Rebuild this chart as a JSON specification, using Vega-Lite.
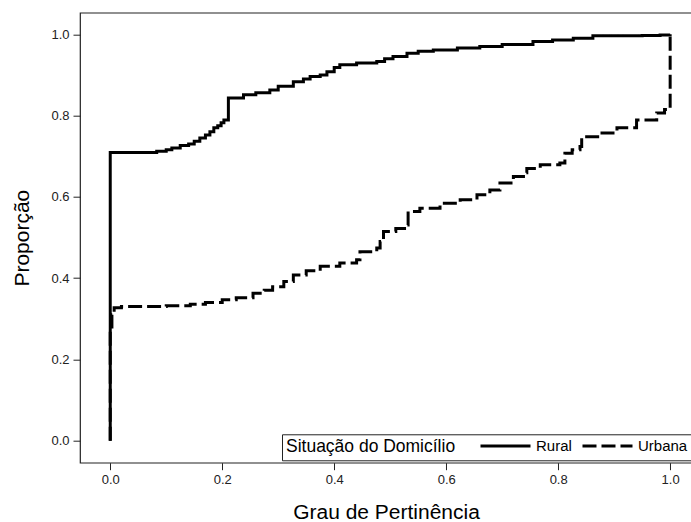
{
  "$schema": "https://vega.github.io/schema/vega-lite/v6.json",
  "width": 612,
  "height": 450,
  "autosize": {"type": "none"},
  "padding": {"left": 80, "top": 12.7, "right": 0, "bottom": 60},
  "background": "white",
  "config": {
    "font": "Liberation Sans",
    "view": {"stroke": "#222", "strokeWidth": 1.2},
    "axis": {"grid": false, "domain": false, "tickColor": "#222", "tickSize": 7, "labelColor": "#222", "labelFontSize": 13, "labelFont": "Liberation Sans", "titleFont": "Liberation Sans", "titleFontWeight": "normal", "titleFontSize": 21, "titleColor": "#000", "labelPadding": 4}
  },
  "data": {"values": [
    {"i": 0, "x": 0, "y": 0, "s": "Rural"},
    {"i": 1, "x": 0, "y": 0.709, "s": "Rural"},
    {"i": 2, "x": 0.083, "y": 0.712, "s": "Rural"},
    {"i": 3, "x": 0.1, "y": 0.716, "s": "Rural"},
    {"i": 4, "x": 0.11, "y": 0.72, "s": "Rural"},
    {"i": 5, "x": 0.125, "y": 0.726, "s": "Rural"},
    {"i": 6, "x": 0.14, "y": 0.73, "s": "Rural"},
    {"i": 7, "x": 0.15, "y": 0.737, "s": "Rural"},
    {"i": 8, "x": 0.16, "y": 0.745, "s": "Rural"},
    {"i": 9, "x": 0.17, "y": 0.752, "s": "Rural"},
    {"i": 10, "x": 0.178, "y": 0.76, "s": "Rural"},
    {"i": 11, "x": 0.185, "y": 0.77, "s": "Rural"},
    {"i": 12, "x": 0.192, "y": 0.775, "s": "Rural"},
    {"i": 13, "x": 0.198, "y": 0.782, "s": "Rural"},
    {"i": 14, "x": 0.203, "y": 0.789, "s": "Rural"},
    {"i": 15, "x": 0.211, "y": 0.843, "s": "Rural"},
    {"i": 16, "x": 0.238, "y": 0.851, "s": "Rural"},
    {"i": 17, "x": 0.26, "y": 0.856, "s": "Rural"},
    {"i": 18, "x": 0.285, "y": 0.863, "s": "Rural"},
    {"i": 19, "x": 0.3, "y": 0.872, "s": "Rural"},
    {"i": 20, "x": 0.327, "y": 0.883, "s": "Rural"},
    {"i": 21, "x": 0.345, "y": 0.89, "s": "Rural"},
    {"i": 22, "x": 0.357, "y": 0.896, "s": "Rural"},
    {"i": 23, "x": 0.375, "y": 0.9, "s": "Rural"},
    {"i": 24, "x": 0.387, "y": 0.908, "s": "Rural"},
    {"i": 25, "x": 0.4, "y": 0.918, "s": "Rural"},
    {"i": 26, "x": 0.41, "y": 0.925, "s": "Rural"},
    {"i": 27, "x": 0.44, "y": 0.929, "s": "Rural"},
    {"i": 28, "x": 0.476, "y": 0.933, "s": "Rural"},
    {"i": 29, "x": 0.49, "y": 0.94, "s": "Rural"},
    {"i": 30, "x": 0.505, "y": 0.945, "s": "Rural"},
    {"i": 31, "x": 0.53, "y": 0.953, "s": "Rural"},
    {"i": 32, "x": 0.55, "y": 0.958, "s": "Rural"},
    {"i": 33, "x": 0.577, "y": 0.961, "s": "Rural"},
    {"i": 34, "x": 0.62, "y": 0.966, "s": "Rural"},
    {"i": 35, "x": 0.66, "y": 0.97, "s": "Rural"},
    {"i": 36, "x": 0.7, "y": 0.975, "s": "Rural"},
    {"i": 37, "x": 0.755, "y": 0.982, "s": "Rural"},
    {"i": 38, "x": 0.79, "y": 0.986, "s": "Rural"},
    {"i": 39, "x": 0.827, "y": 0.99, "s": "Rural"},
    {"i": 40, "x": 0.862, "y": 0.996, "s": "Rural"},
    {"i": 41, "x": 0.95, "y": 0.997, "s": "Rural"},
    {"i": 42, "x": 0.982, "y": 0.998, "s": "Rural"},
    {"i": 43, "x": 1.0, "y": 1.0, "s": "Rural"},
    {"i": 100, "x": 0, "y": 0, "s": "Urbana"},
    {"i": 101, "x": 0, "y": 0.27, "s": "Urbana"},
    {"i": 102, "x": 0.003, "y": 0.31, "s": "Urbana"},
    {"i": 103, "x": 0.007, "y": 0.327, "s": "Urbana"},
    {"i": 104, "x": 0.02, "y": 0.33, "s": "Urbana"},
    {"i": 105, "x": 0.1, "y": 0.332, "s": "Urbana"},
    {"i": 106, "x": 0.143, "y": 0.336, "s": "Urbana"},
    {"i": 107, "x": 0.17, "y": 0.34, "s": "Urbana"},
    {"i": 108, "x": 0.2, "y": 0.347, "s": "Urbana"},
    {"i": 109, "x": 0.225, "y": 0.352, "s": "Urbana"},
    {"i": 110, "x": 0.255, "y": 0.363, "s": "Urbana"},
    {"i": 111, "x": 0.275, "y": 0.37, "s": "Urbana"},
    {"i": 112, "x": 0.29, "y": 0.379, "s": "Urbana"},
    {"i": 113, "x": 0.31, "y": 0.392, "s": "Urbana"},
    {"i": 114, "x": 0.327, "y": 0.408, "s": "Urbana"},
    {"i": 115, "x": 0.35, "y": 0.418, "s": "Urbana"},
    {"i": 116, "x": 0.375, "y": 0.429, "s": "Urbana"},
    {"i": 117, "x": 0.41, "y": 0.437, "s": "Urbana"},
    {"i": 118, "x": 0.44, "y": 0.445, "s": "Urbana"},
    {"i": 119, "x": 0.446, "y": 0.465, "s": "Urbana"},
    {"i": 120, "x": 0.476, "y": 0.474, "s": "Urbana"},
    {"i": 121, "x": 0.482, "y": 0.49, "s": "Urbana"},
    {"i": 122, "x": 0.488, "y": 0.515, "s": "Urbana"},
    {"i": 123, "x": 0.51, "y": 0.522, "s": "Urbana"},
    {"i": 124, "x": 0.53, "y": 0.531, "s": "Urbana"},
    {"i": 125, "x": 0.532, "y": 0.564, "s": "Urbana"},
    {"i": 126, "x": 0.553, "y": 0.572, "s": "Urbana"},
    {"i": 127, "x": 0.589, "y": 0.584, "s": "Urbana"},
    {"i": 128, "x": 0.625, "y": 0.593, "s": "Urbana"},
    {"i": 129, "x": 0.655, "y": 0.605, "s": "Urbana"},
    {"i": 130, "x": 0.678, "y": 0.617, "s": "Urbana"},
    {"i": 131, "x": 0.696, "y": 0.634, "s": "Urbana"},
    {"i": 132, "x": 0.72, "y": 0.65, "s": "Urbana"},
    {"i": 133, "x": 0.738, "y": 0.659, "s": "Urbana"},
    {"i": 134, "x": 0.744, "y": 0.67, "s": "Urbana"},
    {"i": 135, "x": 0.768, "y": 0.679, "s": "Urbana"},
    {"i": 136, "x": 0.803, "y": 0.683, "s": "Urbana"},
    {"i": 137, "x": 0.812, "y": 0.707, "s": "Urbana"},
    {"i": 138, "x": 0.825, "y": 0.716, "s": "Urbana"},
    {"i": 139, "x": 0.839, "y": 0.724, "s": "Urbana"},
    {"i": 140, "x": 0.842, "y": 0.748, "s": "Urbana"},
    {"i": 141, "x": 0.875, "y": 0.757, "s": "Urbana"},
    {"i": 142, "x": 0.905, "y": 0.77, "s": "Urbana"},
    {"i": 143, "x": 0.94, "y": 0.789, "s": "Urbana"},
    {"i": 144, "x": 0.976, "y": 0.806, "s": "Urbana"},
    {"i": 145, "x": 0.99, "y": 0.815, "s": "Urbana"},
    {"i": 146, "x": 1.0, "y": 1.0, "s": "Urbana"}
  ]},
  "mark": {"type": "line", "interpolate": "step-after", "color": "black", "strokeWidth": 3, "clip": true},
  "encoding": {
    "x": {"field": "x", "type": "quantitative", "scale": {"domain": [-0.054, 1.039], "nice": false, "zero": false}, "axis": {"values": [0, 0.2, 0.4, 0.6, 0.8, 1.0], "format": ".1f", "title": "Grau de Pertinência", "titlePadding": 15}},
    "y": {"field": "y", "type": "quantitative", "scale": {"domain": [-0.054, 1.053], "nice": false, "zero": false}, "axis": {"values": [0, 0.2, 0.4, 0.6, 0.8, 1.0], "format": ".1f", "title": "Proporção", "titlePadding": 18}},
    "order": {"field": "i", "type": "quantitative"},
    "strokeDash": {"field": "s", "type": "nominal", "scale": {"domain": ["Rural", "Urbana"], "range": [[1, 0], [14, 5]]},
      "legend": {"title": "Situação do Domicílio", "orient": "none", "legendX": 202, "legendY": 421.6, "direction": "horizontal", "titleOrient": "left", "titleFontSize": 17.5, "titleFontWeight": "normal", "titleColor": "#000", "titleFont": "Liberation Sans", "titlePadding": 22, "titleAnchor": "start", "titleBaseline": "top", "symbolType": "M-1,0H9", "symbolSize": 100, "symbolStrokeWidth": 3, "symbolStrokeColor": "black", "symbolFillColor": "transparent", "labelFontSize": 15, "labelColor": "#000", "labelOffset": 43, "columnPadding": 4, "padding": 4, "strokeColor": "#222", "fillColor": "white", "cornerRadius": 0}}
  }
}
